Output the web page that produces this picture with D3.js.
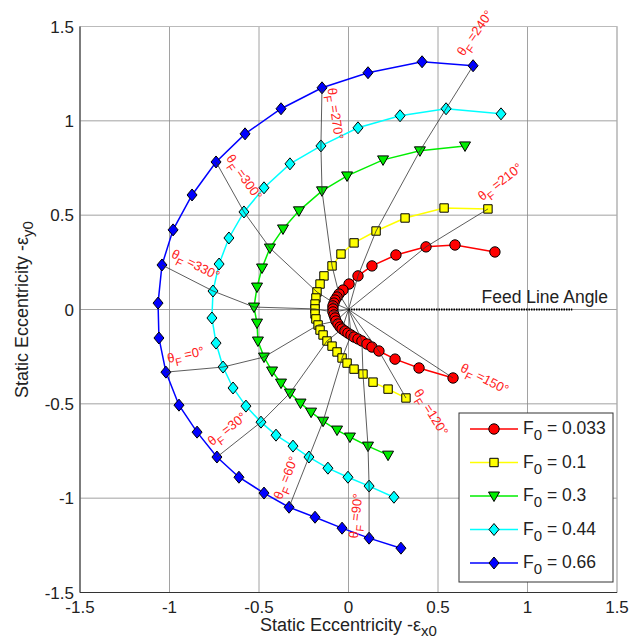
<!DOCTYPE html>
<html lang="en">
<head>
  <meta charset="utf-8">
  <script src="https://d3js.org/d3.v7.min.js"></script>
  <style>
    body { margin: 0; background: #fff; }
    svg text { font-family: "Liberation Sans", Arial, sans-serif; }
  </style>
</head>
<body>
  <svg id="chart" width="630" height="642"></svg>

  <script>
    // each point: [theta_F in degrees, static eccentricity x, static eccentricity y]
    const red = [
      [190, 0.818, 0.305], [200, 0.595, 0.342], [210, 0.433, 0.332], [220, 0.265, 0.289],
      [230, 0.131, 0.231], [240, 0.053, 0.178], [250, 0.003, 0.135], [260, -0.031, 0.103],
      [270, -0.053, 0.082], [280, -0.064, 0.066], [290, -0.075, 0.050], [300, -0.081, 0.034],
      [310, -0.087, 0.019], [320, -0.087, 0.003], [330, -0.087, -0.013], [340, -0.081, -0.029],
      [350, -0.075, -0.045], [0, -0.070, -0.061], [10, -0.059, -0.077], [20, -0.047, -0.093],
      [30, -0.036, -0.103], [40, -0.020, -0.114], [50, -0.003, -0.125], [60, 0.014, -0.135],
      [70, 0.031, -0.146], [80, 0.053, -0.156], [90, 0.075, -0.167], [100, 0.103, -0.183],
      [110, 0.131, -0.199], [120, 0.170, -0.220], [130, 0.260, -0.263], [140, 0.394, -0.310],
      [150, 0.584, -0.363]
    ];
    const yellow = [
      [210, 0.779, 0.533], [220, 0.534, 0.538], [230, 0.316, 0.485], [240, 0.154, 0.416],
      [250, 0.031, 0.353], [260, -0.042, 0.294], [270, -0.092, 0.231], [280, -0.137, 0.178],
      [290, -0.159, 0.135], [300, -0.176, 0.093], [310, -0.182, 0.061], [320, -0.187, 0.029],
      [330, -0.187, 0.003], [340, -0.187, -0.024], [350, -0.182, -0.050], [0, -0.170, -0.082],
      [10, -0.159, -0.109], [20, -0.142, -0.135], [30, -0.120, -0.167], [40, -0.092, -0.194],
      [50, -0.064, -0.225], [60, -0.036, -0.257], [70, -0.008, -0.284], [80, 0.031, -0.316],
      [90, 0.081, -0.342], [100, 0.137, -0.385], [110, 0.221, -0.422], [120, 0.321, -0.469]
    ];
    const green = [
      [230, 0.651, 0.867], [240, 0.399, 0.841], [250, 0.193, 0.793], [260, -0.008, 0.708],
      [270, -0.148, 0.629], [280, -0.277, 0.523], [290, -0.366, 0.427], [300, -0.439, 0.326],
      [310, -0.483, 0.220], [320, -0.511, 0.119], [330, -0.528, 0.013], [340, -0.511, -0.072],
      [350, -0.506, -0.167], [0, -0.472, -0.252], [10, -0.427, -0.326], [20, -0.377, -0.390],
      [30, -0.327, -0.443], [40, -0.268, -0.496], [50, -0.209, -0.544], [60, -0.142, -0.592],
      [70, -0.064, -0.639], [80, 0.008, -0.676], [90, 0.109, -0.724], [100, 0.221, -0.772]
    ];
    const cyan = [
      [230, 0.852, 1.037], [240, 0.545, 1.064], [250, 0.288, 1.027], [260, 0.053, 0.963],
      [270, -0.154, 0.867], [280, -0.327, 0.772], [290, -0.472, 0.645], [300, -0.584, 0.517],
      [310, -0.668, 0.379], [320, -0.723, 0.241], [330, -0.757, 0.098], [340, -0.763, -0.045],
      [350, -0.740, -0.178], [0, -0.701, -0.305], [10, -0.645, -0.416], [20, -0.573, -0.512],
      [30, -0.489, -0.597], [40, -0.405, -0.666], [50, -0.310, -0.724], [60, -0.221, -0.782],
      [70, -0.115, -0.841], [80, -0.003, -0.889], [90, 0.115, -0.936], [100, 0.254, -0.995]
    ];
    const blue = [
      [240, 0.696, 1.292], [250, 0.411, 1.313], [260, 0.109, 1.255], [270, -0.148, 1.175],
      [280, -0.377, 1.064], [290, -0.578, 0.931], [300, -0.740, 0.782], [310, -0.874, 0.607],
      [320, -0.980, 0.422], [330, -1.042, 0.236], [340, -1.064, 0.034], [350, -1.059, -0.151],
      [0, -1.020, -0.332], [10, -0.947, -0.507], [20, -0.846, -0.650], [30, -0.735, -0.782],
      [40, -0.612, -0.889], [50, -0.472, -0.973], [60, -0.332, -1.048], [70, -0.187, -1.101],
      [80, -0.036, -1.159], [90, 0.115, -1.212], [100, 0.293, -1.265]
    ];

    const loads = ["0.033", "0.1", "0.3", "0.44", "0.66"];
    const thetaLines = [0, 30, 60, 90, 120, 150, 210, 240, 270, 300, 330];
    const ticks = [-1.5, -1, -0.5, 0, 0.5, 1, 1.5];
    const tickLabels = ["-1.5", "-1", "-0.5", "0", "0.5", "1", "1.5"];
    const feedLine = [[0, 0], [1.25, 0]];

    const svg = d3.select("svg#chart");
    const x = d3.scaleLinear().domain([-1.5, 1.5]).range([80, 617]);
    const y = d3.scaleLinear().domain([-1.5, 1.5]).range([592.5, 26.5]);

    // marker shapes
    const shapes = {
      circle: "M5.2,0A5.2,5.2 0 1,1 -5.2,0A5.2,5.2 0 1,1 5.2,0Z",
      square: "M-4.2,-4.2H4.2V4.2H-4.2Z",
      triangle: "M-5.5,-4H5.5L0,5.5Z",
      diamond: "M0,-6L5,0L0,6L-5,0Z"
    };
    const series = [
      { data: red, color: "#ff0000", shape: "circle" },
      { data: yellow, color: "#ffff00", shape: "square" },
      { data: green, color: "#00ee00", shape: "triangle" },
      { data: cyan, color: "#00ffff", shape: "diamond" },
      { data: blue, color: "#0000ff", shape: "diamond" }
    ];

    // grid
    const grid = svg.append("g");
    grid.selectAll("line.gx").data(ticks).join("line")
      .attr("class", "gx")
      .attr("x1", d => x(d)).attr("x2", d => x(d))
      .attr("y1", y(-1.5)).attr("y2", y(1.5))
      .attr("stroke", "#8a8a8a").attr("stroke-width", 0.8);
    grid.selectAll("line.gy").data(ticks).join("line")
      .attr("class", "gy")
      .attr("y1", d => y(d)).attr("y2", d => y(d))
      .attr("x1", x(-1.5)).attr("x2", x(1.5))
      .attr("stroke", "#8a8a8a").attr("stroke-width", 0.8);

    // box
    svg.append("rect")
      .attr("x", x(-1.5)).attr("y", y(1.5))
      .attr("width", x(1.5) - x(-1.5)).attr("height", y(-1.5) - y(1.5))
      .attr("fill", "none").attr("stroke", "#bbb");
    svg.append("path")
      .attr("d", `M${x(-1.5)},${y(1.5)}V${y(-1.5)}H${x(1.5)}`)
      .attr("fill", "none").attr("stroke", "#333").attr("stroke-width", 1);

    // tick labels
    svg.selectAll("text.xt").data(ticks).join("text")
      .attr("class", "xt")
      .attr("x", d => x(d)).attr("y", y(-1.5) + 20)
      .attr("text-anchor", "middle").attr("font-size", 17).attr("fill", "#222")
      .text((d, i) => tickLabels[i]);
    svg.selectAll("text.yt").data(ticks).join("text")
      .attr("class", "yt")
      .attr("x", x(-1.5) - 6).attr("y", d => y(d) + 6)
      .attr("text-anchor", "end").attr("font-size", 17).attr("fill", "#222")
      .text((d, i) => tickLabels[i]);

    // axis titles
    const xt = svg.append("text")
      .attr("x", x(0)).attr("y", 631)
      .attr("text-anchor", "middle").attr("font-size", 18).attr("fill", "#222");
    xt.append("tspan").text("Static Eccentricity -ε");
    xt.append("tspan").attr("dy", 5).attr("font-size", 15).text("x0");

    const yt = svg.append("text")
      .attr("transform", `translate(28,${y(0)}) rotate(-90)`)
      .attr("text-anchor", "middle").attr("font-size", 18).attr("fill", "#222");
    yt.append("tspan").text("Static Eccentricity -ε");
    yt.append("tspan").attr("dy", 5).attr("font-size", 15).text("y0");

    // series lines and markers
    const line = d3.line().x(d => x(d[1])).y(d => y(d[2]));
    series.forEach(s => {
      const g = svg.append("g");
      g.append("path").attr("d", line(s.data))
        .attr("fill", "none").attr("stroke", s.color).attr("stroke-width", 1.5);
      g.selectAll("path.m").data(s.data).join("path")
        .attr("class", "m")
        .attr("d", shapes[s.shape])
        .attr("transform", d => `translate(${x(d[1])},${y(d[2])})`)
        .attr("fill", s.color).attr("stroke", "#000").attr("stroke-width", 1);
    });

    // constant theta_F lines, from the origin through each series
    const thetaGroup = svg.append("g");
    const outer = {};
    thetaLines.forEach(t => {
      const pts = [[t, 0, 0]];
      series.forEach(s => {
        const p = s.data.find(d => d[0] === t);
        if (p) pts.push(p);
      });
      outer[t] = pts[pts.length - 1];
      thetaGroup.append("path").attr("d", line(pts))
        .attr("fill", "none").attr("stroke", "#333").attr("stroke-width", 0.8);
    });

    // feed line
    svg.append("path").attr("d", line(feedLine.map(d => [0, d[0], d[1]])))
      .attr("stroke", "#000").attr("stroke-width", 2)
      .attr("stroke-dasharray", "1.5,1");
    svg.append("text")
      .attr("x", 608).attr("y", y(0) - 7)
      .attr("text-anchor", "end").attr("font-size", 17.5).attr("fill", "#222")
      .text("Feed Line Angle");

    // theta_F labels, placed next to the outermost point of each line
    const labelPos = {
      0: [20, -16, -12], 30: [11, -27, -38], 60: [-2, -29, -68], 90: [-12, -22, -84],
      120: [24, 15, 58], 150: [31, 2, 27], 210: [13, -26, -38], 240: [3, -32, -55],
      270: [12, 26, 82], 300: [27, 16, 55], 330: [33, 1, 27]
    };
    thetaLines.forEach(t => {
      const p = outer[t];
      const [dx, dy, rot] = labelPos[t];
      const txt = svg.append("text")
        .attr("transform", `translate(${x(p[1]) + dx},${y(p[2]) + dy}) rotate(${rot})`)
        .attr("text-anchor", "middle").attr("font-size", 13).attr("fill", "#ff2020")
        .attr("dy", 3);
      txt.append("tspan").text("θ");
      txt.append("tspan").attr("dy", 5).attr("font-size", 11).text("F");
      txt.append("tspan").attr("dy", -5).text(" =" + t + "°");
    });

    // legend
    const lg = svg.append("g").attr("transform", "translate(459,413)");
    lg.append("rect").attr("width", 154).attr("height", 169)
      .attr("fill", "#fff").attr("stroke", "#333");
    series.forEach((s, i) => {
      const ly = 16 + i * 33.5;
      lg.append("line").attr("x1", 11).attr("x2", 59).attr("y1", ly).attr("y2", ly)
        .attr("stroke", s.color).attr("stroke-width", 1.5);
      lg.append("path").attr("d", shapes[s.shape])
        .attr("transform", `translate(35,${ly})`)
        .attr("fill", s.color).attr("stroke", "#000").attr("stroke-width", 1);
      const tx = lg.append("text").attr("x", 64).attr("y", ly + 5)
        .attr("font-size", 17.5).attr("fill", "#222");
      tx.append("tspan").text("F");
      tx.append("tspan").attr("dy", 6).attr("font-size", 15).text("0");
      tx.append("tspan").attr("dy", -6).text(" = " + loads[i]);
    });
  </script>
</body>
</html>
